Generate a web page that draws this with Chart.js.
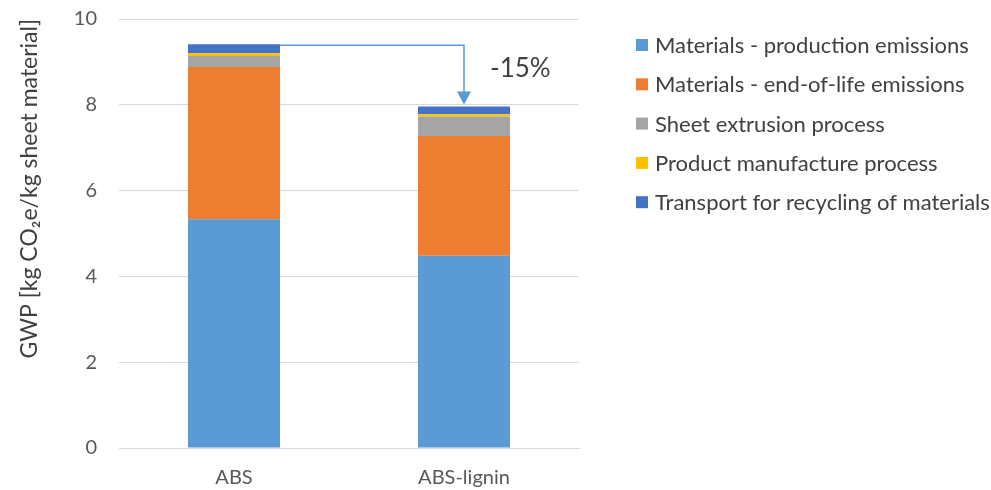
<!DOCTYPE html>
<html>
<head>
<meta charset="utf-8">
<script src="https://cdn.jsdelivr.net/npm/chart.js@4/dist/chart.umd.min.js"></script>
<style>
  html, body { margin: 0; padding: 0; background: #fff; }
  #wrap { width: 991px; height: 490px; }
</style>
</head>
<body>
<div id="wrap"><canvas id="myChart" width="991" height="490"></canvas></div>
<script>
const categories = ["ABS", "ABS-lignin"];
const seriesNames = [
  "Materials - production emissions",
  "Materials - end-of-life emissions",
  "Sheet extrusion process",
  "Product manufacture process",
  "Transport for recycling of materials"
];
const productionEmissions = [5.33, 4.48];
const endOfLifeEmissions = [3.55, 2.79];
const sheetExtrusion = [0.26, 0.45];
const productManufacture = [0.06, 0.06];
const transportRecycling = [0.21, 0.18];
const yTicks = [0, 2, 4, 6, 8, 10];
const colors = ["#5b9bd5", "#ed7d31", "#a5a5a5", "#ffc000", "#4472c4"];

const allSeries = [productionEmissions, endOfLifeEmissions, sheetExtrusion, productManufacture, transportRecycling];
const totals = categories.map((c, i) => allSeries.reduce((s, arr) => s + arr[i], 0));

const fontFamily = "Lato, 'Open Sans', sans-serif";
const textColor = "#595959";

// legend + arrow drawn on the canvas
const extrasPlugin = {
  id: "extras",
  afterDraw(chart) {
    const ctx = chart.ctx;
    const yScale = chart.scales.y;
    const topMeta = chart.getDatasetMeta(chart.data.datasets.length - 1);
    const barA = topMeta.data[0];
    const barB = topMeta.data[1];

    // arrow from ABS total down to ABS-lignin total
    const yA = yScale.getPixelForValue(totals[0]) + 1;
    const yB = yScale.getPixelForValue(totals[1]) - 2;
    const xStart = barA.x + barA.width / 2;
    const xEnd = barB.x;
    ctx.save();
    ctx.strokeStyle = "#5b9bd5";
    ctx.fillStyle = "#5b9bd5";
    ctx.lineWidth = 1.5;
    ctx.beginPath();
    ctx.moveTo(xStart, yA);
    ctx.lineTo(xEnd, yA);
    ctx.lineTo(xEnd, yB - 12);
    ctx.stroke();
    ctx.beginPath();
    ctx.moveTo(xEnd - 7, yB - 13);
    ctx.lineTo(xEnd + 7, yB - 13);
    ctx.lineTo(xEnd, yB);
    ctx.closePath();
    ctx.fill();

    const pct = Math.round((totals[1] / totals[0] - 1) * 100);
    ctx.fillStyle = "#404040";
    ctx.font = "26px " + fontFamily;
    ctx.textAlign = "left";
    ctx.textBaseline = "middle";
    ctx.fillText(pct + "%", xEnd + 26, yA + 23);

    // legend
    ctx.font = "22px " + fontFamily;
    chart.data.datasets.forEach((ds, i) => {
      const y = 45 + i * 39.3;
      ctx.fillStyle = ds.backgroundColor;
      ctx.fillRect(636, y - 6, 12, 12);
      ctx.fillStyle = "#404040";
      ctx.fillText(ds.label, 655, y + 1);
    });
    ctx.restore();
  }
};

const chartData = {
  labels: categories,
  datasets: allSeries.map((arr, i) => ({
    label: seriesNames[i],
    data: arr,
    backgroundColor: colors[i],
    borderWidth: 0,
    categoryPercentage: 1,
    barPercentage: 0.4
  }))
};

const config = {
  type: "bar",
  data: chartData,
  options: {
    responsive: false,
    animation: false,
    layout: { padding: { top: 19, right: 412, left: 0, bottom: 0 } },
    plugins: {
      legend: { display: false },
      tooltip: { enabled: false }
    },
    scales: {
      x: {
        stacked: true,
        grid: { display: false },
        border: { color: "#d9d9d9" },
        ticks: { color: textColor, font: { family: fontFamily, size: 20 }, padding: 10 },
        afterFit(scale) { scale.height = 42; }
      },
      y: {
        stacked: true,
        min: 0,
        max: 10,
        afterBuildTicks(scale) { scale.ticks = yTicks.map(v => ({ value: v })); },
        grid: { color: "#d9d9d9", drawTicks: false },
        border: { display: false },
        ticks: { color: textColor, font: { family: fontFamily, size: 20 }, padding: 22 },
        title: {
          display: true,
          text: "GWP [kg CO\u2082e/kg sheet material]",
          color: "#404040",
          align: "end",
          font: { family: fontFamily, size: 23 },
          padding: { top: 16, bottom: 0 }
        },
        afterFit(scale) {
          scale.width = 119;
          scale.paddingTop = 0;
          scale.paddingBottom = 0;
        }
      }
    }
  },
  plugins: [extrasPlugin]
};

const myChart = new Chart(document.getElementById("myChart"), config);
</script>
</body>
</html>
